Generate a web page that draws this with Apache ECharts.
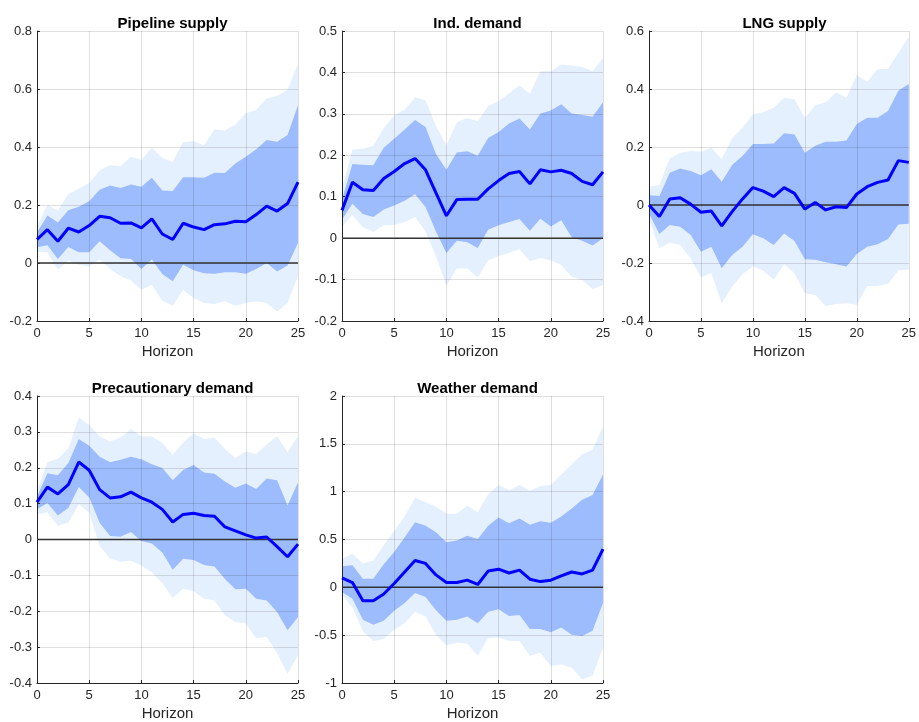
<!DOCTYPE html>
<html>
<head>
<meta charset="utf-8">
<script src="https://cdn.jsdelivr.net/npm/echarts@6/dist/echarts.min.js"></script>
<style>html,body{margin:0;padding:0;background:#fff;}#chart{width:919px;height:722px;}</style>
</head>
<body>
<div id="chart"></div>
<script>
const horizon = [0,1,2,3,4,5,6,7,8,9,10,11,12,13,14,15,16,17,18,19,20,21,22,23,24,25];

// Pipeline supply
const pipeMed  = [0.081,0.115,0.075,0.12,0.107,0.129,0.161,0.156,0.137,0.138,0.121,0.152,0.10,0.081,0.137,0.124,0.115,0.132,0.135,0.144,0.142,0.167,0.196,0.179,0.205,0.279];
const pipeIn1  = [0.054,0.061,0.014,0.055,0.037,0.037,0.075,0.044,0.016,0.014,-0.021,0.012,-0.038,-0.063,-0.006,-0.025,-0.035,-0.037,-0.032,-0.032,-0.037,-0.021,0.0,-0.029,-0.009,0.069];
const pipeIn2  = [0.105,0.164,0.14,0.182,0.194,0.213,0.253,0.267,0.259,0.271,0.263,0.294,0.25,0.248,0.296,0.296,0.294,0.311,0.31,0.343,0.366,0.392,0.424,0.418,0.441,0.544];
const pipeOut1 = [0.038,0.037,-0.023,0.009,-0.006,-0.012,0.012,-0.021,-0.046,-0.06,-0.092,-0.075,-0.13,-0.147,-0.092,-0.121,-0.138,-0.141,-0.132,-0.147,-0.138,-0.132,-0.138,-0.167,-0.138,-0.044];
const pipeOut2 = [0.127,0.2,0.181,0.238,0.256,0.276,0.319,0.338,0.334,0.366,0.355,0.397,0.363,0.348,0.417,0.42,0.406,0.461,0.457,0.478,0.516,0.528,0.567,0.576,0.597,0.686];

// Ind. demand
const indMed  = [0.067,0.135,0.117,0.115,0.144,0.161,0.18,0.192,0.165,0.109,0.054,0.093,0.094,0.094,0.119,0.139,0.156,0.161,0.131,0.165,0.16,0.164,0.156,0.137,0.129,0.16];
const indIn1  = [0.045,0.083,0.058,0.051,0.069,0.079,0.09,0.106,0.075,0.016,-0.036,-0.006,-0.01,-0.024,0.02,0.031,0.039,0.046,0.018,0.047,0.028,0.043,0.002,-0.006,-0.018,0.0];
const indIn2  = [0.093,0.179,0.177,0.176,0.218,0.24,0.262,0.285,0.268,0.203,0.165,0.207,0.21,0.199,0.242,0.256,0.277,0.289,0.262,0.301,0.308,0.323,0.301,0.297,0.293,0.328];
const indOut1 = [0.028,0.056,0.026,0.015,0.031,0.032,0.039,0.051,0.016,-0.044,-0.115,-0.073,-0.073,-0.095,-0.054,-0.043,-0.036,-0.026,-0.056,-0.048,-0.054,-0.065,-0.093,-0.101,-0.123,-0.113];
const indOut2 = [0.12,0.214,0.216,0.223,0.266,0.296,0.31,0.34,0.333,0.27,0.224,0.28,0.29,0.282,0.319,0.331,0.349,0.369,0.348,0.403,0.403,0.419,0.417,0.413,0.403,0.435];

// LNG supply
const lngMed  = [0.0,-0.04,0.021,0.025,0.003,-0.025,-0.021,-0.072,-0.023,0.021,0.06,0.048,0.029,0.06,0.04,-0.014,0.009,-0.017,-0.006,-0.009,0.038,0.063,0.078,0.086,0.153,0.147];
const lngIn1  = [-0.029,-0.1,-0.069,-0.075,-0.103,-0.161,-0.144,-0.218,-0.172,-0.144,-0.101,-0.115,-0.138,-0.098,-0.124,-0.187,-0.189,-0.197,-0.204,-0.212,-0.169,-0.144,-0.135,-0.117,-0.067,-0.065];
const lngIn2  = [0.034,0.031,0.111,0.126,0.117,0.103,0.123,0.08,0.138,0.169,0.21,0.21,0.212,0.247,0.243,0.18,0.204,0.218,0.218,0.222,0.279,0.301,0.301,0.324,0.394,0.417];
const lngOut1 = [-0.052,-0.149,-0.13,-0.138,-0.184,-0.249,-0.235,-0.339,-0.281,-0.239,-0.212,-0.227,-0.258,-0.204,-0.235,-0.304,-0.31,-0.348,-0.341,-0.339,-0.344,-0.279,-0.279,-0.272,-0.226,-0.222];
const lngOut2 = [0.063,0.069,0.161,0.18,0.186,0.184,0.197,0.158,0.23,0.266,0.312,0.321,0.335,0.37,0.365,0.301,0.344,0.354,0.388,0.37,0.448,0.425,0.468,0.47,0.524,0.58];

// Precautionary demand
const precMed  = [0.104,0.146,0.127,0.153,0.216,0.193,0.139,0.116,0.119,0.132,0.116,0.104,0.084,0.049,0.07,0.073,0.067,0.065,0.035,0.024,0.013,0.004,0.007,-0.02,-0.048,-0.013];
const precIn1  = [0.084,0.102,0.067,0.088,0.146,0.118,0.047,0.01,0.008,0.021,-0.004,-0.011,-0.036,-0.084,-0.054,-0.057,-0.071,-0.075,-0.11,-0.139,-0.137,-0.165,-0.17,-0.202,-0.253,-0.216];
const precIn2  = [0.12,0.185,0.179,0.213,0.28,0.261,0.231,0.215,0.222,0.231,0.224,0.21,0.199,0.165,0.194,0.208,0.187,0.183,0.162,0.144,0.156,0.141,0.17,0.165,0.095,0.159];
const precOut1 = [0.07,0.076,0.038,0.047,0.098,0.075,-0.018,-0.053,-0.062,-0.059,-0.073,-0.091,-0.121,-0.163,-0.137,-0.144,-0.165,-0.17,-0.211,-0.23,-0.234,-0.276,-0.271,-0.317,-0.375,-0.322];
const precOut2 = [0.135,0.216,0.225,0.254,0.34,0.319,0.287,0.273,0.284,0.308,0.288,0.287,0.27,0.236,0.27,0.296,0.28,0.284,0.252,0.227,0.245,0.238,0.265,0.288,0.243,0.288];

// Weather demand
const wthMed  = [0.1,0.05,-0.14,-0.14,-0.07,0.04,0.16,0.28,0.25,0.13,0.05,0.05,0.075,0.03,0.17,0.19,0.15,0.18,0.085,0.06,0.075,0.12,0.16,0.14,0.18,0.40];
const wthIn1  = [-0.05,-0.12,-0.34,-0.39,-0.35,-0.245,-0.165,-0.06,-0.1,-0.24,-0.35,-0.34,-0.305,-0.375,-0.255,-0.23,-0.3,-0.29,-0.435,-0.435,-0.47,-0.42,-0.495,-0.51,-0.455,-0.165];
const wthIn2  = [0.22,0.23,0.09,0.09,0.24,0.37,0.52,0.68,0.645,0.575,0.47,0.49,0.54,0.505,0.645,0.73,0.67,0.72,0.655,0.69,0.675,0.74,0.825,0.915,0.965,1.18];
const wthOut1 = [-0.08,-0.21,-0.46,-0.56,-0.54,-0.44,-0.375,-0.255,-0.305,-0.495,-0.605,-0.58,-0.59,-0.715,-0.53,-0.525,-0.56,-0.56,-0.715,-0.685,-0.825,-0.805,-0.84,-0.96,-0.925,-0.63];
const wthOut2 = [0.3,0.35,0.25,0.28,0.44,0.59,0.74,0.94,0.89,0.845,0.77,0.77,0.855,0.785,0.97,1.07,1.015,1.07,1.01,1.06,1.07,1.18,1.285,1.39,1.435,1.68];

const titles = ['Pipeline supply','Ind. demand','LNG supply','Precautionary demand','Weather demand'];
const yMins = [-0.2,-0.2,-0.4,-0.4,-1];
const yMaxs = [0.8,0.5,0.6,0.4,2];
const yIntervals = [0.2,0.1,0.2,0.1,0.5];

const panels = [
  {med: pipeMed, in1: pipeIn1, in2: pipeIn2, out1: pipeOut1, out2: pipeOut2},
  {med: indMed, in1: indIn1, in2: indIn2, out1: indOut1, out2: indOut2},
  {med: lngMed, in1: lngIn1, in2: lngIn2, out1: lngOut1, out2: lngOut2},
  {med: precMed, in1: precIn1, in2: precIn2, out1: precOut1, out2: precOut2},
  {med: wthMed, in1: wthIn1, in2: wthIn2, out1: wthOut1, out2: wthOut2}
];

const boxes = [
  {left: 37, top: 31, width: 261, height: 290},
  {left: 342, top: 31, width: 261, height: 290},
  {left: 649, top: 31, width: 261, height: 290},
  {left: 37, top: 396, width: 261, height: 289},
  {left: 342, top: 396, width: 261, height: 289}
];

const FONT = 'Liberation Sans, Arial, Helvetica, sans-serif';
const AX = '#262626';
const OUTER = '#e5f0fe';
const INNER = '#9dbcfd';

const chart = echarts.init(document.getElementById('chart'), null, {renderer: 'canvas'});
const grid = [], xAxis = [], yAxis = [], series = [], title = [];

function pairs(arr) { return horizon.map((h, i) => [h, arr[i]]); }

// band drawn as a polygon through the axis scales: upper edge forward, lower edge backward
function bandSeries(k, lo, hi, color, z) {
  return {
    type: 'custom', xAxisIndex: k, yAxisIndex: k, silent: true, z: z,
    data: horizon.map((h, i) => [h, lo[i], hi[i]]),
    renderItem: function (params, api) {
      if (params.dataIndex !== 0) return null;
      const pts = [];
      for (let i = 0; i < horizon.length; i++) pts.push(api.coord([horizon[i], hi[i]]));
      for (let i = horizon.length - 1; i >= 0; i--) pts.push(api.coord([horizon[i], lo[i]]));
      return {type: 'polygon', shape: {points: pts}, style: {fill: color, stroke: null}};
    }
  };
}

panels.forEach((p, k) => {
  const b = boxes[k];
  grid.push({left: b.left, top: b.top, width: b.width, height: b.height, containLabel: false});
  title.push({
    text: titles[k], left: b.left + b.width / 2, top: b.top - 20, textAlign: 'center',
    textStyle: {fontFamily: FONT, fontSize: 15, fontWeight: 'bold', color: '#000'}
  });
  xAxis.push({
    type: 'value', gridIndex: k, min: 0, max: 25, interval: 5, z: 3,
    name: 'Horizon', nameLocation: 'middle', nameGap: 23,
    nameTextStyle: {fontFamily: FONT, fontSize: 15, color: AX},
    axisLine: {show: true, onZero: false, lineStyle: {color: AX, width: 1}},
    axisTick: {show: true, inside: true, length: 3, lineStyle: {color: AX}},
    axisLabel: {fontFamily: FONT, fontSize: 13, color: AX, margin: 6},
    splitLine: {show: true, lineStyle: {color: 'rgba(38,38,38,0.15)', width: 1}}
  });
  yAxis.push({
    type: 'value', gridIndex: k, min: yMins[k], max: yMaxs[k], interval: yIntervals[k], z: 3,
    axisLine: {show: true, onZero: false, lineStyle: {color: AX, width: 1}},
    axisTick: {show: true, inside: true, length: 3, lineStyle: {color: AX}},
    axisLabel: {fontFamily: FONT, fontSize: 13, color: AX, margin: 5},
    splitLine: {show: true, lineStyle: {color: 'rgba(38,38,38,0.15)', width: 1}}
  });
  series.push(bandSeries(k, p.out1, p.out2, OUTER, 1));
  series.push(bandSeries(k, p.in1, p.in2, INNER, 2));
  const common = {type: 'line', xAxisIndex: k, yAxisIndex: k, showSymbol: false, symbol: 'none', silent: true};
  series.push(Object.assign({}, common, {data: [[0, 0], [25, 0]], lineStyle: {color: '#333333', width: 1.5}, z: 4}));
  series.push(Object.assign({}, common, {data: pairs(p.med), lineStyle: {color: '#0000ff', width: 3}, z: 5}));
});

chart.setOption({animation: false, backgroundColor: '#ffffff', title, grid, xAxis, yAxis, series});
</script>
</body>
</html>
